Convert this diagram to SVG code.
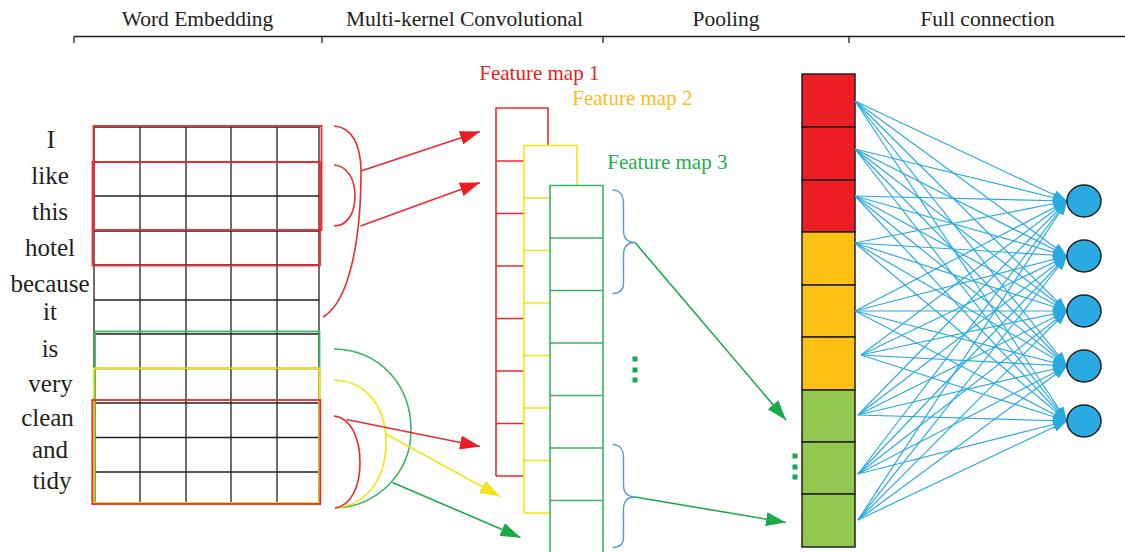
<svg xmlns="http://www.w3.org/2000/svg" width="1125" height="552" viewBox="0 0 1125 552">
  <defs>
    <style>
      text { font-family: "Liberation Serif", "Times New Roman", serif; }
      .hdr { font-size: 21.5px; fill: #231f20; text-anchor: middle; }
      .word { font-size: 25px; fill: #231f20; text-anchor: middle; }
      .fm { font-size: 21px; }
      .axis { stroke: #231f20; stroke-width: 1.3; fill: none; }
      .grid { stroke: #231f20; stroke-width: 1.3; fill: none; }
      .win { fill: none; stroke-width: 1.8; }
      .red { stroke: #ee2a2e; }
      .yel { stroke: #f5e50f; }
      .grn { stroke: #3bb561; }
      .map { fill: none; stroke-width: 1.6; }
      .arc { fill: none; stroke-width: 1.6; }
      .brace { fill: none; stroke: #5b9bd5; stroke-width: 1.4; }
      .arr { stroke-width: 1.6; fill: none; }
      .fc { stroke: #29abe2; stroke-width: 1.2; marker-end: url(#headBlue); }
      .cell { stroke: #231f20; stroke-width: 1.5; }
      .out { fill: #29abe2; stroke: #231f20; stroke-width: 1.5; }
      .dot { fill: #1aaa4a; }
    </style>
    <marker id="headRed" viewBox="0 0 20 14" refX="20" refY="7" markerWidth="20" markerHeight="14" markerUnits="userSpaceOnUse" orient="auto">
      <path d="M0,0 L20,7 L0,14 z" fill="#ed1c24"/>
    </marker>
    <marker id="headYel" viewBox="0 0 20 14" refX="20" refY="7" markerWidth="20" markerHeight="14" markerUnits="userSpaceOnUse" orient="auto">
      <path d="M0,0 L20,7 L0,14 z" fill="#f2e41a"/>
    </marker>
    <marker id="headGrn" viewBox="0 0 20 14" refX="20" refY="7" markerWidth="20" markerHeight="14" markerUnits="userSpaceOnUse" orient="auto">
      <path d="M0,0 L20,7 L0,14 z" fill="#1aaa4a"/>
    </marker>
    <marker id="headBlue" viewBox="0 0 14 10" refX="14" refY="5" markerWidth="14" markerHeight="10" markerUnits="userSpaceOnUse" orient="auto">
      <path d="M0,0 L14,5 L0,10 z" fill="#29abe2"/>
    </marker>
  </defs>

  <rect width="1125" height="552" fill="#ffffff"/>

  <!-- stage headings with the bracket rule -->
  <g id="header">
    <text class="hdr" x="197.5" y="26">Word Embedding</text>
    <text class="hdr" x="464.5" y="26">Multi-kernel Convolutional</text>
    <text class="hdr" x="726" y="26">Pooling</text>
    <text class="hdr" x="987.5" y="26">Full connection</text>
    <path class="axis" d="M74,36.5 H1125 M74,36.5 V43 M322,36.5 V43 M603,36.5 V43 M849,36.5 V43"/>
  </g>

  <!-- input sentence, one word per row -->
  <g id="words">
    <text class="word" x="51" y="148">I</text>
    <text class="word" x="50" y="184">like</text>
    <text class="word" x="50" y="220">this</text>
    <text class="word" x="50" y="256">hotel</text>
    <text class="word" x="50" y="291.5">because</text>
    <text class="word" x="50" y="320">it</text>
    <text class="word" x="50" y="356.5">is</text>
    <text class="word" x="50.5" y="391.5">very</text>
    <text class="word" x="47.5" y="425.5">clean</text>
    <text class="word" x="50" y="458">and</text>
    <text class="word" x="52" y="489">tidy</text>
  </g>

  <!-- embedding matrix -->
  <g id="embedding">
    <path class="grid" d="M94,127 V503 M140,127 V503 M186,127 V503 M231,127 V503 M277,127 V503 M319,127 V503
      M94,127 H319 M94,162 H319 M94,196 H319 M94,231 H319 M94,265 H319 M94,300 H319 M94,334 H319
      M94,368.5 H319 M94,403 H319 M94,437.5 H319 M94,472 H319 M94,503 H319"/>
    <rect class="win red" x="93.5" y="126" width="228" height="104"/>
    <rect class="win red" x="92.5" y="162" width="227.5" height="103.5"/>
    <rect class="win grn" x="95" y="331.5" width="224.5" height="171.5"/>
    <rect class="win yel" x="93.7" y="368.3" width="225.6" height="134.7"/>
    <rect class="win red" x="92.3" y="400" width="228" height="104"/>
  </g>

  <!-- convolution windows -->
  <g id="kernels">
    <path class="arc red" d="M334,126 C352,127 361,145 361,172 C361,230 352,300 323,317"/>
    <path class="arc red" d="M334,165 C348,166 355,180 355,196 C355,212 348,226 334,226"/>
    <path class="arc grn" d="M334,349 C380,350 411,385 411,430 C411,475 375,507 335,508"/>
    <path class="arc yel" d="M334,380 C365,381 386,405 386,443 C386,480 365,506 335,508"/>
    <path class="arc red" d="M334,416 C352,418 360,440 360,463 C360,488 350,506 335,508"/>
  </g>

  <!-- feature maps -->
  <g id="feature-maps">
    <text class="fm" x="479.3" y="80" fill="#ed1c24">Feature map 1</text>
    <text class="fm" x="572.3" y="105" fill="#fbbd1a">Feature map 2</text>
    <text class="fm" x="607.3" y="168.5" fill="#22b14c">Feature map 3</text>
    <path class="map red" d="M496,476 V108 H548 V145.5
      M496,161 H524 M496,213.5 H524 M496,266 H524 M496,318.5 H524 M496,371 H524 M496,423.5 H524 M496,476 H524"/>
    <path class="map yel" d="M524,513 V145.5 H577 V185.5
      M524,198 H550 M524,250.5 H550 M524,303 H550 M524,355.5 H550 M524,408 H550 M524,460.5 H550 M524,513 H550"/>
    <path class="map grn" d="M550,556 V185.5 H603 V556
      M550,238 H603 M550,290.5 H603 M550,343 H603 M550,395.5 H603 M550,448 H603 M550,500.5 H603"/>
    <path class="brace" d="M612.5,190 C619.5,190 623.5,195 623.5,203 V230 C623.5,238 627,242.5 635,242.5 C627,242.5 623.5,247 623.5,255 V283 C623.5,290 619.5,293.5 612.5,293.5"/>
    <path class="brace" d="M612.5,444.5 C619.5,444.5 623.5,449.5 623.5,457.5 V484.5 C623.5,492.5 627,497 635,497 C627,497 623.5,501.5 623.5,509.5 V537.5 C623.5,544.5 619.5,547.5 612.5,547.5"/>
    <rect class="dot" x="632.5" y="356.5" width="5" height="5"/>
    <rect class="dot" x="632.5" y="367.5" width="5" height="5"/>
    <rect class="dot" x="632.5" y="377.5" width="5" height="5"/>
  </g>

  <!-- pooled vector -->
  <g id="pooling">
    <rect class="cell" x="802" y="74" width="53" height="53" fill="#ed1f24"/>
    <rect class="cell" x="802" y="127" width="53" height="53" fill="#ed1f24"/>
    <rect class="cell" x="802" y="180" width="53" height="52" fill="#ed1f24"/>
    <rect class="cell" x="802" y="232" width="53" height="53" fill="#fbc012"/>
    <rect class="cell" x="802" y="285" width="53" height="52" fill="#fbc012"/>
    <rect class="cell" x="802" y="337" width="53" height="53" fill="#fbc012"/>
    <rect class="cell" x="802" y="390" width="53" height="52" fill="#92c850"/>
    <rect class="cell" x="802" y="442" width="53" height="52" fill="#92c850"/>
    <rect class="cell" x="802" y="494" width="53" height="53" fill="#92c850"/>
    <rect class="dot" x="792.5" y="453.5" width="5" height="5"/>
    <rect class="dot" x="792.5" y="464.5" width="5" height="5"/>
    <rect class="dot" x="792.5" y="474.5" width="5" height="5"/>
  </g>

  <!-- connectors -->
  <g id="connectors">
    <line class="arr red" x1="361" y1="171" x2="480" y2="131.5" marker-end="url(#headRed)"/>
    <line class="arr red" x1="360.5" y1="226" x2="480" y2="182.5" marker-end="url(#headRed)"/>
    <line class="arr red" x1="346.5" y1="419.5" x2="480" y2="446.5" marker-end="url(#headRed)"/>
    <line class="arr" stroke="#f2e41a" x1="386" y1="434" x2="500" y2="496.5" marker-end="url(#headYel)"/>
    <line class="arr" stroke="#1aaa4a" x1="392.5" y1="482.5" x2="520.5" y2="537.5" marker-end="url(#headGrn)"/>
    <line class="arr" stroke="#1aaa4a" x1="635" y1="242.5" x2="786" y2="420" marker-end="url(#headGrn)"/>
    <line class="arr" stroke="#1aaa4a" x1="635" y1="497" x2="786" y2="522.5" marker-end="url(#headGrn)"/>

    <g id="full-connection">
      <line class="fc" x1="855" y1="101" x2="1067" y2="201"/>
      <line class="fc" x1="855" y1="101" x2="1067" y2="256"/>
      <line class="fc" x1="855" y1="101" x2="1067" y2="311"/>
      <line class="fc" x1="855" y1="101" x2="1067" y2="366"/>
      <line class="fc" x1="855" y1="101" x2="1067" y2="421"/>
      <line class="fc" x1="855" y1="149" x2="1067" y2="201"/>
      <line class="fc" x1="855" y1="149" x2="1067" y2="256"/>
      <line class="fc" x1="855" y1="149" x2="1067" y2="311"/>
      <line class="fc" x1="855" y1="149" x2="1067" y2="366"/>
      <line class="fc" x1="855" y1="149" x2="1067" y2="421"/>
      <line class="fc" x1="855" y1="196" x2="1067" y2="201"/>
      <line class="fc" x1="855" y1="196" x2="1067" y2="256"/>
      <line class="fc" x1="855" y1="196" x2="1067" y2="311"/>
      <line class="fc" x1="855" y1="196" x2="1067" y2="366"/>
      <line class="fc" x1="855" y1="196" x2="1067" y2="421"/>
      <line class="fc" x1="855" y1="243" x2="1067" y2="201"/>
      <line class="fc" x1="855" y1="243" x2="1067" y2="256"/>
      <line class="fc" x1="855" y1="243" x2="1067" y2="311"/>
      <line class="fc" x1="855" y1="243" x2="1067" y2="366"/>
      <line class="fc" x1="855" y1="243" x2="1067" y2="421"/>
      <line class="fc" x1="855" y1="311" x2="1067" y2="201"/>
      <line class="fc" x1="855" y1="311" x2="1067" y2="256"/>
      <line class="fc" x1="855" y1="311" x2="1067" y2="311"/>
      <line class="fc" x1="855" y1="311" x2="1067" y2="366"/>
      <line class="fc" x1="855" y1="311" x2="1067" y2="421"/>
      <line class="fc" x1="861" y1="355" x2="1067" y2="201"/>
      <line class="fc" x1="861" y1="355" x2="1067" y2="256"/>
      <line class="fc" x1="861" y1="355" x2="1067" y2="311"/>
      <line class="fc" x1="861" y1="355" x2="1067" y2="366"/>
      <line class="fc" x1="861" y1="355" x2="1067" y2="421"/>
      <line class="fc" x1="858" y1="415" x2="1067" y2="201"/>
      <line class="fc" x1="858" y1="415" x2="1067" y2="256"/>
      <line class="fc" x1="858" y1="415" x2="1067" y2="311"/>
      <line class="fc" x1="858" y1="415" x2="1067" y2="366"/>
      <line class="fc" x1="858" y1="415" x2="1067" y2="421"/>
      <line class="fc" x1="858" y1="474" x2="1067" y2="201"/>
      <line class="fc" x1="858" y1="474" x2="1067" y2="256"/>
      <line class="fc" x1="858" y1="474" x2="1067" y2="311"/>
      <line class="fc" x1="858" y1="474" x2="1067" y2="366"/>
      <line class="fc" x1="858" y1="474" x2="1067" y2="421"/>
      <line class="fc" x1="858" y1="520" x2="1067" y2="201"/>
      <line class="fc" x1="858" y1="520" x2="1067" y2="256"/>
      <line class="fc" x1="858" y1="520" x2="1067" y2="311"/>
      <line class="fc" x1="858" y1="520" x2="1067" y2="366"/>
      <line class="fc" x1="858" y1="520" x2="1067" y2="421"/>
    </g>
  </g>

  <!-- output neurons -->
  <g id="outputs">
    <ellipse id="out1" class="out" cx="1084" cy="201" rx="17" ry="16"/>
    <ellipse id="out2" class="out" cx="1084" cy="256" rx="17" ry="16"/>
    <ellipse id="out3" class="out" cx="1084" cy="311" rx="17" ry="16"/>
    <ellipse id="out4" class="out" cx="1084" cy="366" rx="17" ry="16"/>
    <ellipse id="out5" class="out" cx="1084" cy="421" rx="17" ry="16"/>
  </g>
</svg>
